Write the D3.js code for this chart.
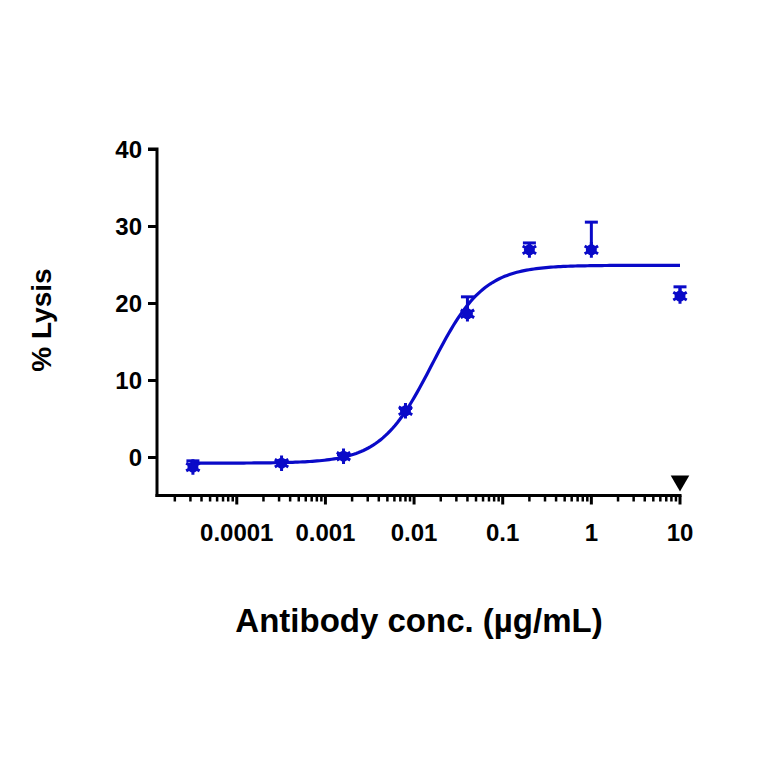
<!DOCTYPE html>
<html>
<head>
<meta charset="utf-8">
<script src="https://cdn.jsdelivr.net/npm/d3@7"></script>
<style>
body { margin: 0; background: #fff; }
text { font-family: "Liberation Sans", Arial, sans-serif; font-weight: bold; }
</style>
</head>
<body>
<svg id="chart" width="764" height="764"></svg>
<script>
// measured points (mean, upper error)
var conc = [0.000032, 0.00032, 0.0016, 0.008, 0.04, 0.2, 1, 10];
var lysis = [-1.3, -0.8, 0.1, 6.0, 18.6, 26.9, 26.9, 20.9];
var errUp = [0.8, 0.3, 0.2, 0.3, 2.2, 0.9, 3.6, 1.2];
// control marker (triangle)
var ctrlConc = [10];
var ctrlLysis = [-3.1];
// 4PL fit parameters
var fitBottom = -0.8, fitTop = 24.9, fitEC50 = 0.016, fitHill = 1.5;
var yTicks = [0, 10, 20, 30, 40];
var xTicks = [0.0001, 0.001, 0.01, 0.1, 1, 10];
var xTickLabels = ["0.0001", "0.001", "0.01", "0.1", "1", "10"];

var blue = "#0a0ac8";
var svg = d3.select("#chart");
var x = d3.scaleLog().domain([Math.pow(10, -4.9), 10]).range([157, 680]);
var y = d3.scaleLinear().domain([-5, 40]).range([495.5, 149]);

// y axis
var yAxis = svg.append("g").attr("transform", "translate(157,0)")
	.call(d3.axisLeft(y).tickValues(yTicks).tickSize(9).tickPadding(6));
yAxis.select(".domain").attr("stroke-width", 3).attr("d", "M-9," + y(40) + "H0V" + (y(-5)+1.5));
yAxis.selectAll(".tick line").attr("stroke-width", 3);
yAxis.selectAll("text").style("font-size", "24px").attr("fill", "#000").attr("dy", "0.35em");

// x axis with minor ticks
var minor = [];
for (var e = -5; e < 1; e++) {
	for (var m = 2; m < 10; m++) {
		var v = m * Math.pow(10, e);
		if (v > x.domain()[0]) minor.push(v);
	}
}
var xg = svg.append("g").attr("transform", "translate(0," + y(-5) + ")");
xg.append("line").attr("x1", 155.5).attr("x2", 681.5).attr("stroke", "#000").attr("stroke-width", 3);
xg.selectAll(".minor").data(minor).enter().append("line")
	.attr("x1", function(d) { return x(d); }).attr("x2", function(d) { return x(d); })
	.attr("y1", 0).attr("y2", 6).attr("stroke", "#000").attr("stroke-width", 2.5);
xg.selectAll(".major").data(xTicks).enter().append("line")
	.attr("x1", function(d) { return x(d); }).attr("x2", function(d) { return x(d); })
	.attr("y1", 0).attr("y2", 9).attr("stroke", "#000").attr("stroke-width", 3);
xg.selectAll(".lbl").data(xTicks).enter().append("text")
	.attr("x", function(d) { return x(d); }).attr("y", 45)
	.attr("text-anchor", "middle").style("font-size", "24px")
	.text(function(d, i) { return xTickLabels[i]; });

// fitted curve
function fit(c) { return fitBottom + (fitTop - fitBottom) / (1 + Math.pow(fitEC50 / c, fitHill)); }
var curveX = d3.range(0, 201).map(function(i) {
	var l0 = Math.log10(conc[0]), l1 = Math.log10(10);
	return Math.pow(10, l0 + (l1 - l0) * i / 200);
});
svg.append("path").datum(curveX)
	.attr("fill", "none").attr("stroke", blue).attr("stroke-width", 3.2)
	.attr("d", d3.line().x(function(d) { return x(d); }).y(function(d) { return y(fit(d)); }));

// error bars (upper only)
var eb = svg.append("g").attr("stroke", blue).attr("stroke-width", 3);
conc.forEach(function(c, i) {
	var px = x(c);
	eb.append("line").attr("x1", px).attr("x2", px).attr("y1", y(lysis[i])).attr("y2", y(lysis[i] + errUp[i]));
	eb.append("line").attr("x1", px - 6.5).attr("x2", px + 6.5).attr("y1", y(lysis[i] + errUp[i])).attr("y2", y(lysis[i] + errUp[i]));
});

// markers
var pts = svg.append("g");
conc.forEach(function(c, i) {
	var g = pts.append("g").attr("transform", "translate(" + x(c) + "," + y(lysis[i]) + ")");
	g.append("circle").attr("r", 5.5).attr("fill", blue);
	g.append("path").attr("d", d3.symbol().type(d3.symbolAsterisk).size(170)())
		.attr("stroke", blue).attr("stroke-width", 3).attr("fill", "none");
});

// control triangle
svg.selectAll(".ctrl").data(ctrlConc).enter().append("path")
	.attr("transform", function(d, i) { return "translate(" + x(d) + "," + y(ctrlLysis[i]) + ") rotate(180)"; })
	.attr("d", d3.symbol().type(d3.symbolTriangle).size(150)())
	.attr("fill", "#000");

// titles
svg.append("text").attr("x", 419).attr("y", 632).attr("text-anchor", "middle")
	.style("font-size", "33px").text("Antibody conc. (µg/mL)");
svg.append("text").attr("transform", "translate(51,320) rotate(-90)").attr("text-anchor", "middle")
	.style("font-size", "28px").text("% Lysis");
</script>
</body>
</html>
